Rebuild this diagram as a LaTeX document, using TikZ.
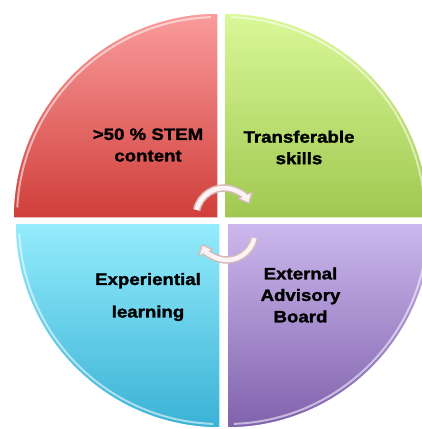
\documentclass[tikz,border=0pt]{standalone}
\usepackage{fontspec}
\newfontfamily\quadfont{Liberation Sans}[FakeStretch=1.13,BoldFeatures={FakeBold=1.6}]
\usetikzlibrary{arrows.meta}

\definecolor{stemtop}{RGB}{250,156,156}
\definecolor{stembot}{RGB}{208,62,58}
\definecolor{skilltop}{RGB}{218,248,152}
\definecolor{skillbot}{RGB}{160,200,80}
\definecolor{learntop}{RGB}{148,236,252}
\definecolor{learnbot}{RGB}{58,178,214}
\definecolor{boardtop}{RGB}{204,184,238}
\definecolor{boardbot}{RGB}{128,98,172}
\definecolor{arrowrim}{RGB}{214,186,186}
\definecolor{arrowfill}{RGB}{252,244,244}

\tikzset{every picture/.style={line width=0.75pt}}

\begin{document}
\begin{tikzpicture}[x=1pt,y=1pt,yscale=-1,xscale=1,
	quadtext/.style={inner sep=0.75pt,align=center,font=\quadfont\bfseries\fontsize{16.5}{21.5}\selectfont},
	quadrim/.style={draw=white,line width=1.5pt},
	gloss/.style={draw=white,opacity=0.55,line width=2pt},
	arrowout/.style={draw=arrowrim,line width=7.5pt,-{Triangle[width=17pt,length=10pt]}},
	arrowin/.style={draw=arrowfill,line width=4.5pt,shorten >=2.2pt,-{Triangle[width=11.5pt,length=7pt]}}]
				\useasboundingbox (0,0) rectangle (422,429);
				\begin{scope}
				\clip (0,0) rectangle (422,429);
				%Shape: Quarter [id:stem] 
				\shadedraw[quadrim,top color=stemtop,bottom color=stembot] (218,218) -- (13,218) arc[start angle=180,end angle=270,radius=205] -- cycle ;
				%Shape: Quarter [id:skills] 
				\shadedraw[quadrim,top color=skilltop,bottom color=skillbot] (224,218) -- (224,13) arc[start angle=270,end angle=360,radius=205] -- cycle ;
				%Shape: Quarter [id:learning] 
				\shadedraw[quadrim,top color=learntop,bottom color=learnbot] (220,223) -- (15,223) arc[start angle=180,end angle=90,radius=205] -- cycle ;
				%Shape: Quarter [id:board] 
				\shadedraw[quadrim,top color=boardtop,bottom color=boardbot] (227,223) -- (432,223) arc[start angle=0,end angle=90,radius=205] -- cycle ;
				%Shape: Gloss rims
				\draw[gloss] (218,218) ++(183:201) arc[start angle=183,end angle=268,radius=201] ;
				\draw[gloss] (224,218) ++(272:201) arc[start angle=272,end angle=357,radius=201] ;
				\draw[gloss] (220,223) ++(177:201) arc[start angle=177,end angle=92,radius=201] ;
				\draw[gloss] (227,223) ++(3:201) arc[start angle=3,end angle=88,radius=201] ;
				\end{scope}
				
				%Shape: Arc arrows 
				\draw[arrowout] (224,216) ++(192.5:28) arc[start angle=192.5,end angle=335,radius=28] ;
				\draw[arrowin] (224,216) ++(192.5:28) arc[start angle=192.5,end angle=335,radius=28] ;
				\draw[arrowout] (227,232) ++(12.5:28) arc[start angle=12.5,end angle=155,radius=28] ;
				\draw[arrowin] (227,232) ++(12.5:28) arc[start angle=12.5,end angle=155,radius=28] ;
				
				% Text Node
				\node[quadtext] (stem) at (148,145) {>50 \% STEM\\content};
				% Text Node
				\node[quadtext] (skills) at (299,147.5) {Transferable\\skills};
				% Text Node
				\node[quadtext] (learning) at (148,297) {Experiential\\[11pt]learning};
				% Text Node
				\node[quadtext] (board) at (300.5,295) {External\\Advisory\\Board};
			\end{tikzpicture}
\end{document}
